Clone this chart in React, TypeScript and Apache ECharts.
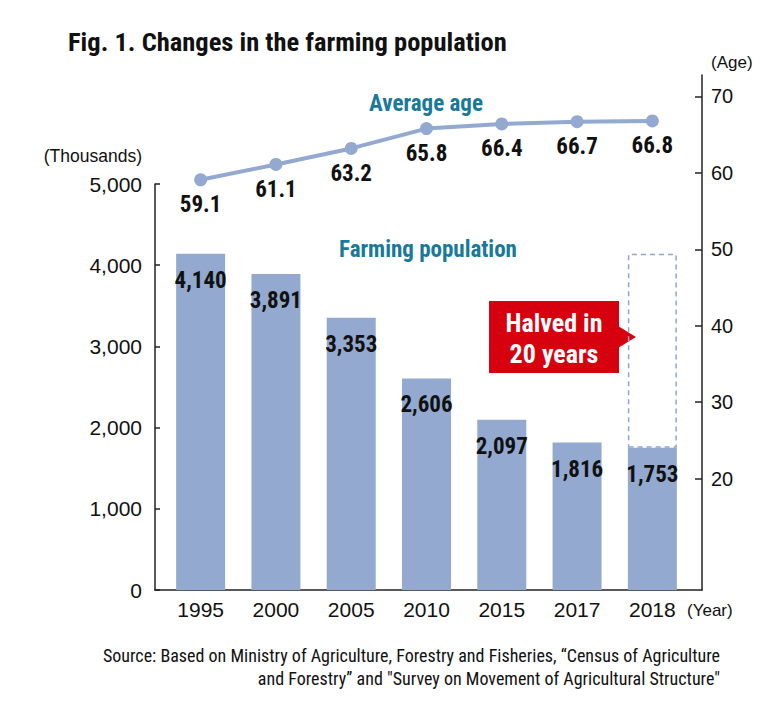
import React, { useEffect, useRef } from "react";
import * as echarts from "echarts";

const years = ["1995", "2000", "2005", "2010", "2015", "2017", "2018"];
const population = [4140, 3891, 3353, 2606, 2097, 1816, 1753];
const averageAge = [59.1, 61.1, 63.2, 65.8, 66.4, 66.7, 66.8];
const popTicks = [0, 1000, 2000, 3000, 4000, 5000];
const ageTicks = [20, 30, 40, 50, 60, 70];

const COND = "'Roboto Condensed', 'Liberation Sans Narrow', 'Arial Narrow', 'DejaVu Sans Condensed', sans-serif";
const REG = "'Liberation Sans', Arial, sans-serif";
const BAR = "#93a9d0";
const TEAL = "#18799b";

export default function App() {
  const ref = useRef<HTMLDivElement>(null);
  useEffect(() => {
    if (!ref.current) return;
    const chart = echarts.init(ref.current, null, { renderer: "svg" });
    const first = population[0];
    const last = population[population.length - 1];
    const ghost = population.map((v, i) => (i === population.length - 1 ? first - last : null));
    chart.setOption({
      animation: false,
      backgroundColor: "#ffffff",
      grid: [
        { left: 163, right: 78, top: 184, bottom: 126 },
        { left: 163, right: 78, top: 75, bottom: 126 },
        { left: 155, right: 66, top: 589, bottom: 126 },
      ],
      xAxis: [
        {
          type: "category",
          gridIndex: 0,
          data: years,
          axisLine: { show: false },
          axisTick: { show: false },
          axisLabel: { fontFamily: REG, fontSize: 21, color: "#111", margin: 9 },
        },
        { type: "category", gridIndex: 1, data: years, show: false },
        {
          type: "value",
          gridIndex: 2,
          min: 0,
          max: 1,
          axisLine: { show: true, lineStyle: { color: "#222", width: 1.5 } },
          axisTick: { show: false },
          axisLabel: { show: false },
          splitLine: { show: false },
        },
      ],
      yAxis: [
        {
          type: "value",
          gridIndex: 0,
          position: "left",
          offset: 8,
          min: 0,
          max: 5000,
          axisLine: { show: true, lineStyle: { color: "#222", width: 1.5 } },
          axisTick: { show: true, inside: true, length: 5, customValues: popTicks, lineStyle: { color: "#222", width: 1.5 } },
          axisLabel: {
            customValues: popTicks,
            fontFamily: REG,
            fontSize: 21,
            color: "#111",
            margin: 13,
            formatter: (v: number) => v.toLocaleString("en-US"),
          },
          splitLine: { show: false },
        },
        {
          type: "value",
          gridIndex: 1,
          position: "right",
          offset: 12,
          min: 5.41,
          max: 72.81,
          axisLine: { show: true, lineStyle: { color: "#222", width: 1.5 } },
          axisTick: { show: true, inside: true, length: 7, customValues: ageTicks, lineStyle: { color: "#222", width: 1.5 } },
          axisLabel: { customValues: ageTicks, fontFamily: REG, fontSize: 20, color: "#111", margin: 9 },
          splitLine: { show: false },
        },
        { type: "value", gridIndex: 2, show: false },
      ],
      series: [
        {
          type: "bar",
          name: "Farming population",
          xAxisIndex: 0,
          yAxisIndex: 0,
          stack: "pop",
          data: population,
          barWidth: 49,
          itemStyle: { color: BAR },
          label: {
            show: true,
            position: "insideTop",
            distance: 15,
            fontFamily: COND,
            fontWeight: "bold",
            fontSize: 23,
            color: "#111",
            formatter: (p: any) => Number(p.value).toLocaleString("en-US"),
          },
          z: 2,
        },
        {
          type: "bar",
          name: "1995 level",
          xAxisIndex: 0,
          yAxisIndex: 0,
          stack: "pop",
          data: ghost,
          barWidth: 49,
          itemStyle: {
            color: "rgba(0,0,0,0)",
            borderColor: "#8ea6d0",
            borderWidth: 1.5,
            borderType: [5, 4],
          },
          z: 1,
        },
        {
          type: "line",
          name: "Average age",
          xAxisIndex: 1,
          yAxisIndex: 1,
          data: averageAge,
          symbol: "circle",
          symbolSize: 13,
          lineStyle: { color: BAR, width: 4 },
          itemStyle: { color: BAR },
          label: {
            show: true,
            position: "bottom",
            distance: 7,
            fontFamily: COND,
            fontWeight: "bold",
            fontSize: 23,
            color: "#111",
            formatter: (p: any) => Number(p.value).toFixed(1),
          },
          z: 5,
        },
      ],
      graphic: [
        {
          type: "text",
          left: 68,
          top: 28,
          style: { text: "Fig. 1. Changes in the farming population", font: `bold 26.5px ${COND}`, fill: "#111" },
        },
        {
          type: "text",
          x: 142,
          y: 156,
          style: { text: "(Thousands)", font: `17.5px ${REG}`, fill: "#111", align: "right", verticalAlign: "middle" },
        },
        {
          type: "text",
          x: 711,
          y: 62,
          style: { text: "(Age)", font: `17px ${REG}`, fill: "#111", align: "left", verticalAlign: "middle" },
        },
        {
          type: "text",
          x: 687,
          y: 610,
          style: { text: "(Year)", font: `17px ${REG}`, fill: "#111", align: "left", verticalAlign: "middle" },
        },
        {
          type: "text",
          x: 426,
          y: 103,
          style: { text: "Average age", font: `bold 23px ${COND}`, fill: TEAL, align: "center", verticalAlign: "middle" },
        },
        {
          type: "text",
          x: 428,
          y: 249,
          style: { text: "Farming population", font: `bold 23px ${COND}`, fill: TEAL, align: "center", verticalAlign: "middle" },
        },
        {
          type: "rect",
          shape: { x: 489, y: 301, width: 130, height: 72 },
          style: { fill: "#d7000f" },
        },
        {
          type: "polygon",
          shape: { points: [[618, 326], [636, 337], [618, 348]] },
          style: { fill: "#d7000f" },
        },
        {
          type: "text",
          x: 554,
          y: 338,
          style: {
            text: "Halved in\n20 years",
            font: `bold 26px ${COND}`,
            lineHeight: 31,
            fill: "#ffffff",
            align: "center",
            verticalAlign: "middle",
          },
        },
        {
          type: "text",
          x: 720,
          y: 655,
          style: {
            text: "Source: Based on Ministry of Agriculture, Forestry and Fisheries, \u201cCensus of Agriculture",
            font: `18px ${COND}`,
            fill: "#111",
            align: "right",
            verticalAlign: "middle",
          },
        },
        {
          type: "text",
          x: 720,
          y: 678,
          style: {
            text: "and Forestry\u201d and \"Survey on Movement of Agricultural Structure\"",
            font: `18px ${COND}`,
            fill: "#111",
            align: "right",
            verticalAlign: "middle",
          },
        },
      ],
    });
    return () => chart.dispose();
  }, []);
  return (
    <div
      ref={ref}
      style={{ position: "fixed", left: 0, top: 0, width: 768, height: 716, background: "#fff" }}
    />
  );
}
